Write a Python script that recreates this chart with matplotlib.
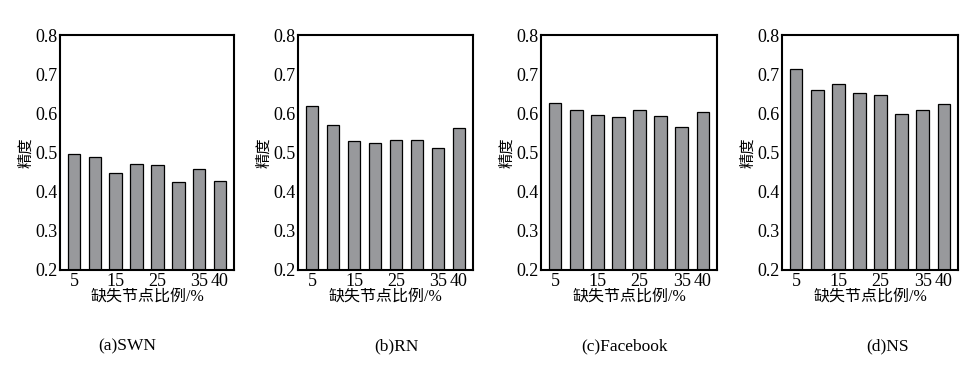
import numpy as np
import matplotlib
matplotlib.use("Agg")
import matplotlib.pyplot as plt

plt.rcParams['font.family'] = ['Liberation Serif', 'Noto Sans CJK SC']

# --- data ---
ratios = [5, 10, 15, 20, 25, 30, 35, 40]
tick_labels = ['5', '15', '25', '35', '40']
tick_ratios = [5, 15, 25, 35, 40]

swn = [0.496, 0.488, 0.448, 0.471, 0.468, 0.424, 0.457, 0.427]
rn = [0.620, 0.569, 0.529, 0.523, 0.531, 0.531, 0.511, 0.562]
facebook = [0.626, 0.609, 0.596, 0.591, 0.609, 0.593, 0.565, 0.603]
ns = [0.712, 0.660, 0.675, 0.652, 0.647, 0.598, 0.609, 0.624]

captions = ['(a)SWN', '(b)RN', '(c)Facebook', '(d)NS']
series = [swn, rn, facebook, ns]

# axes boxes in pixel coords (left, right)
W, H = 968, 383
lefts = [60, 298, 541, 782]
rights = [234, 473, 717, 958]
top, bottom = 35, 270
caption_x = [127, 396, 624, 888]

fig = plt.figure(figsize=(W / 100, H / 100), dpi=100)

for i, vals in enumerate(series):
    ax = fig.add_axes([lefts[i] / W, 1 - bottom / H,
                       (rights[i] - lefts[i]) / W, (bottom - top) / H])
    x = np.arange(1, len(ratios) + 1)
    ax.bar(x, np.array(vals) - 0.2, bottom=0.2, width=0.6,
           color='#98999c', edgecolor='black', linewidth=0.9)
    ax.set_xlim(0.33, 8.67)
    ax.set_ylim(0.2, 0.8)
    ax.set_yticks([0.2, 0.3, 0.4, 0.5, 0.6, 0.7, 0.8])
    ax.set_yticklabels(['0.2', '0.3', '0.4', '0.5', '0.6', '0.7', '0.8'])
    ax.set_xticks([ratios.index(r) + 1 for r in tick_ratios])
    ax.set_xticklabels(tick_labels)
    ax.tick_params(length=0, labelsize=13, pad=2)
    for s in ax.spines.values():
        s.set_linewidth(1.5)
    ax.set_xlabel('缺失节点比例/%', fontsize=11.5, labelpad=-1)
    ax.set_ylabel('精度', fontsize=11, labelpad=1)
    fig.text(caption_x[i] / W, 1 - 346 / H, captions[i],
             ha='center', va='center', fontsize=12.5)

fig.savefig('out.png', dpi=100)
